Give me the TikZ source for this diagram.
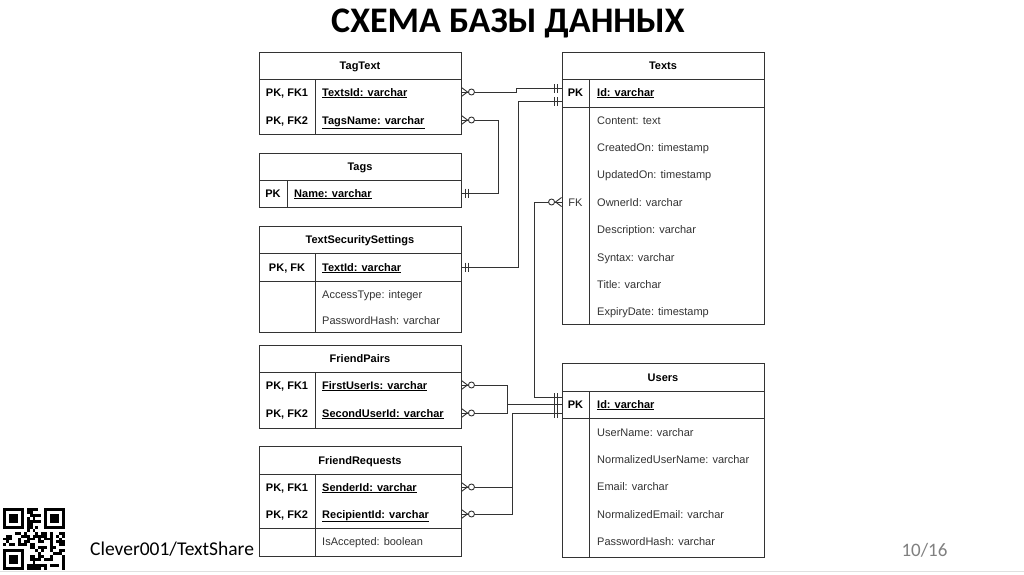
\documentclass[tikz,border=0pt]{standalone}
\usepackage{fontspec}
\setmainfont{Liberation Sans}
\newfontfamily\slidefont{Carlito}

\begin{document}
\begin{tikzpicture}[x=1pt,y=-1pt,
tablebox/.style={draw=black!80,line width=0.9pt,minimum width=202pt,inner sep=0pt},
tableline/.style={draw=black!80,line width=0.9pt},
rowtext/.style={inner sep=0pt,text height=8pt,text depth=0pt,font=\fontsize{11}{13}\selectfont},
header/.style={rowtext,font=\fontsize{11}{13}\selectfont\bfseries},
keytext/.style={rowtext,font=\fontsize{11}{13}\selectfont\bfseries},
fktext/.style={rowtext,text=black!80},
pkfield/.style={rowtext,anchor=west,font=\fontsize{11}{13}\selectfont\bfseries},
attr/.style={rowtext,anchor=west,text=black!80},
link/.style={draw=black!80,line width=0.9pt},
zeromany/.pic={\draw[link] (0,-4.5) -- (6,0) -- (0,4.5);
  \draw[link,fill=white] (10,0) circle (3pt);},
onlyone/.pic={\draw[link] (4,-4.5) -- (4,4.5); \draw[link] (7,-4.5) -- (7,4.5);}]
\fill[white] (0,0) rectangle (1024,574);
\useasboundingbox (0,0) rectangle (1024,574);

% title and footer
\node[font=\slidefont\bfseries\fontsize{36}{40}\selectfont,anchor=base] (title) at (508,32) {СХЕМА БАЗЫ ДАННЫХ};
\node[font=\slidefont\fontsize{19.5}{22}\selectfont,anchor=base west,inner sep=0pt] (repo) at (90,555) {Clever001/TextShare};
\node[font=\slidefont\fontsize{19}{22}\selectfont,text=black!50,anchor=base,inner sep=0pt] (pagenum) at (924.5,556) {10/16};
\draw[black!12,line width=0.8pt] (0,571) -- (1024,571);

% qr code
\begin{scope}[shift={(3,508)}]
\pgfmathsetseed{11}
\foreach \i in {0,...,20}{
  \foreach \j in {0,...,20}{
    \pgfmathtruncatemacro{\infind}{((\i<8)&&(\j<8))||((\i>12)&&(\j<8))||((\i<8)&&(\j>12))}
    \ifnum\infind=0
      \pgfmathtruncatemacro{\dark}{rnd<0.5}
      \ifnum\dark=1 \fill (\i*2.95,\j*2.95) rectangle ++(2.95,2.95); \fi
    \fi
  }
}
\foreach \fx/\fy in {0/0,14/0,0/14}{
  \fill (\fx*2.95,\fy*2.95) rectangle ++(20.65,20.65);
  \fill[white] (\fx*2.95+2.95,\fy*2.95+2.95) rectangle ++(14.75,14.75);
  \fill (\fx*2.95+5.9,\fy*2.95+5.9) rectangle ++(8.85,8.85);
}
\end{scope}

% TagText
\node[tablebox,minimum height=82pt] (tagtext) at (360,93) {};
\draw[tableline] (259,79) -- (461,79);
\draw[tableline] (315,79) -- (315,134);
\node[header] (tt-head) at (360,65.5) {TagText};
\node[keytext] (tt-k1) at (287,92) {PK, FK1};
\node[keytext] (tt-k2) at (287,120) {PK, FK2};
\node[pkfield] (tt-f1) at (322,92) {\underline{TextsId: varchar}};
\node[pkfield] (tt-f2) at (322,120) {\underline{TagsName: varchar}};

% Tags
\node[tablebox,minimum height=54pt] (tags) at (360,180) {};
\draw[tableline] (259,180) -- (461,180);
\draw[tableline] (287,180) -- (287,207);
\node[header] (tg-head) at (360,166.5) {Tags};
\node[keytext] (tg-k1) at (273,193) {PK};
\node[pkfield] (tg-f1) at (294,193) {\underline{Name: varchar}};

% TextSecuritySettings
\node[tablebox,minimum height=106pt] (tss) at (360,279) {};
\draw[tableline] (259,253) -- (461,253);
\draw[tableline] (259,281) -- (461,281);
\draw[tableline] (315,253) -- (315,332);
\node[header] (ts-head) at (360,239.5) {TextSecuritySettings};
\node[keytext] (ts-k1) at (287,267) {PK, FK};
\node[pkfield] (ts-f1) at (322,267) {\underline{TextId: varchar}};
\node[attr] (ts-f2) at (322,294) {AccessType: integer};
\node[attr] (ts-f3) at (322,320) {PasswordHash: varchar};

% FriendPairs
\node[tablebox,minimum height=83pt] (fp) at (360,386.5) {};
\draw[tableline] (259,372) -- (461,372);
\draw[tableline] (315,372) -- (315,428);
\node[header] (fp-head) at (360,358.5) {FriendPairs};
\node[keytext] (fp-k1) at (287,385) {PK, FK1};
\node[keytext] (fp-k2) at (287,413) {PK, FK2};
\node[pkfield] (fp-f1) at (322,385) {\underline{FirstUserIs: varchar}};
\node[pkfield] (fp-f2) at (322,413) {\underline{SecondUserId: varchar}};

% FriendRequests
\node[tablebox,minimum height=110pt] (fr) at (360,501) {};
\draw[tableline] (259,474) -- (461,474);
\draw[tableline] (259,528) -- (461,528);
\draw[tableline] (315,474) -- (315,556);
\node[header] (fr-head) at (360,460) {FriendRequests};
\node[keytext] (fr-k1) at (287,487) {PK, FK1};
\node[keytext] (fr-k2) at (287,514) {PK, FK2};
\node[pkfield] (fr-f1) at (322,487) {\underline{SenderId: varchar}};
\node[pkfield] (fr-f2) at (322,514) {\underline{RecipientId: varchar}};
\node[attr] (fr-f3) at (322,541) {IsAccepted: boolean};

% Texts
\node[tablebox,minimum height=272pt] (texts) at (663,188) {};
\draw[tableline] (562,79) -- (764,79);
\draw[tableline] (562,107) -- (764,107);
\draw[tableline] (589,79) -- (589,324);
\node[header] (tx-head) at (663,65.5) {Texts};
\node[keytext] (tx-k1) at (575.5,92) {PK};
\node[fktext] (tx-k2) at (575.5,202) {FK};
\node[pkfield] (tx-f1) at (597,92) {\underline{Id: varchar}};
\node[attr] (tx-content) at (597,120) {Content: text};
\node[attr] (tx-created) at (597,147.3) {CreatedOn: timestamp};
\node[attr] (tx-updated) at (597,174.6) {UpdatedOn: timestamp};
\node[attr] (tx-owner) at (597,202) {OwnerId: varchar};
\node[attr] (tx-descr) at (597,229.5) {Description: varchar};
\node[attr] (tx-syntax) at (597,257) {Syntax: varchar};
\node[attr] (tx-title) at (597,284.5) {Title: varchar};
\node[attr] (tx-expiry) at (597,311) {ExpiryDate: timestamp};

% Users
\node[tablebox,minimum height=194pt] (users) at (663,460) {};
\draw[tableline] (562,391) -- (764,391);
\draw[tableline] (562,418) -- (764,418);
\draw[tableline] (589,391) -- (589,557);
\node[header] (us-head) at (663,377) {Users};
\node[keytext] (us-k1) at (575.5,404) {PK};
\node[pkfield] (us-f1) at (597,404) {\underline{Id: varchar}};
\node[attr] (us-name) at (597,432) {UserName: varchar};
\node[attr] (us-nname) at (597,459.3) {NormalizedUserName: varchar};
\node[attr] (us-email) at (597,486.7) {Email: varchar};
\node[attr] (us-nemail) at (597,514) {NormalizedEmail: varchar};
\node[attr] (us-hash) at (597,541.5) {PasswordHash: varchar};

% relations
\draw[link] (tagtext.east |- tt-f1) -- ++(55,0) |- ([yshift=4pt]texts.west |- tx-f1);
\draw[link] (tss.east |- ts-f1) -- ++(57,0) |- ([yshift=-9pt]texts.west |- tx-f1);
\draw[link] (tagtext.east |- tt-f2) -- ++(37,0) |- (tags.east |- tg-f1);
\draw[link] (texts.west |- tx-owner) -- ++(-27,0) |- ([yshift=7pt]users.west |- us-f1);
\draw[link] (fp.east |- fp-f1) -- ++(46,0) |- (users.west |- us-f1);
\draw[link] (fp.east |- fp-f2) -- ++(46,0) |- (users.west |- us-f1);
\draw[link] (fr.east |- fr-f1) -- ++(51,0) |- ([yshift=-9pt]users.west |- us-f1);
\draw[link] (fr.east |- fr-f2) -- ++(51,0) |- ([yshift=-9pt]users.west |- us-f1);

% cardinality marks
\pic at (tagtext.east |- tt-f1) {zeromany};
\pic at (tagtext.east |- tt-f2) {zeromany};
\pic at (tags.east |- tg-f1) {onlyone};
\pic at (tss.east |- ts-f1) {onlyone};
\pic at (fp.east |- fp-f1) {zeromany};
\pic at (fp.east |- fp-f2) {zeromany};
\pic at (fr.east |- fr-f1) {zeromany};
\pic at (fr.east |- fr-f2) {zeromany};
\pic[rotate=180] at ([yshift=4pt]texts.west |- tx-f1) {onlyone};
\pic[rotate=180] at ([yshift=-9pt]texts.west |- tx-f1) {onlyone};
\pic[rotate=180] at (texts.west |- tx-owner) {zeromany};
\pic[rotate=180] at ([yshift=7pt]users.west |- us-f1) {onlyone};
\pic[rotate=180] at (users.west |- us-f1) {onlyone};
\pic[rotate=180] at ([yshift=-9pt]users.west |- us-f1) {onlyone};
\end{tikzpicture}
\end{document}
